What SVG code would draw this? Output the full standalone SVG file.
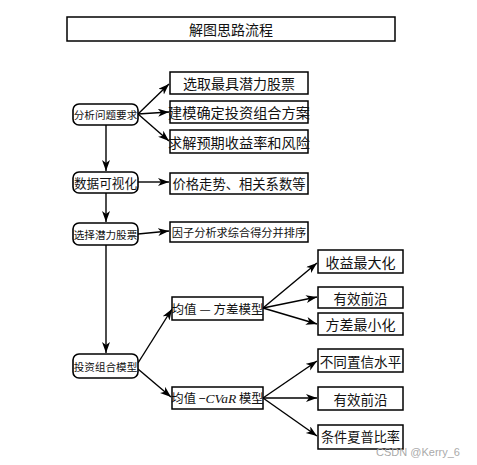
<svg xmlns="http://www.w3.org/2000/svg" width="477" height="465" viewBox="0 0 477 465">
<style>
.box{fill:#fff;stroke:#000;stroke-width:1.5}
.rbox{fill:#fff;stroke:#000;stroke-width:1.6}
text{font-family:"Noto Sans CJK SC","Noto Sans",sans-serif;fill:#111;text-anchor:middle;dominant-baseline:central}
.c line{stroke:#000;stroke-width:1.4;marker-end:url(#ah)}
.it{font-family:"Liberation Serif",serif;font-style:italic}
</style>
<defs>
<marker id="ah" markerUnits="userSpaceOnUse" markerWidth="12" markerHeight="10" refX="11" refY="4" orient="auto">
<path d="M0,0 L11,4 L0,8 L3,4 z" fill="#000"/>
</marker>
</defs>
<rect width="477" height="465" fill="#fff"/>
<g id="title"><rect class="box" x="67" y="17" width="328" height="24"/><text x="231" y="29" font-size="14">解图思路流程</text></g>

<g class="c">
<line x1="138" y1="114" x2="169" y2="84"/>
<line x1="138" y1="114" x2="169" y2="112"/>
<line x1="138" y1="114" x2="169" y2="141"/>
<line x1="106" y1="125" x2="106" y2="171"/>
<line x1="138" y1="182" x2="169" y2="182"/>
<line x1="106" y1="193" x2="106" y2="222"/>
<line x1="138" y1="234" x2="169" y2="231"/>
<line x1="106" y1="245" x2="106" y2="353"/>
<line x1="138" y1="363" x2="172" y2="309"/>
<line x1="138" y1="369" x2="171" y2="397"/>
<line x1="263" y1="308" x2="317" y2="263"/>
<line x1="263" y1="308" x2="317" y2="297"/>
<line x1="263" y1="308" x2="317" y2="324"/>
<line x1="263" y1="398" x2="317" y2="361"/>
<line x1="263" y1="398" x2="317" y2="398"/>
<line x1="263" y1="398" x2="317" y2="436"/>
</g>

<g id="n1"><rect class="rbox" x="73" y="104" width="65" height="21" rx="6"/><text x="105.5" y="114.5" font-size="10.6">分析问题要求</text></g>
<g id="n1a"><rect class="box" x="170" y="72" width="138" height="22"/><text x="239" y="83" font-size="14">选取最具潜力股票</text></g>
<g id="n1b"><rect class="box" x="170" y="101" width="138" height="22"/><text x="239" y="112" font-size="14.2">建模确定投资组合方案</text></g>
<g id="n1c"><rect class="box" x="170" y="130" width="138" height="23"/><text x="239" y="141.5" font-size="14.2">求解预期收益率和风险</text></g>

<g id="n2"><rect class="rbox" x="73" y="172" width="65" height="21" rx="6"/><text x="105.5" y="182.5" font-size="12.6">数据可视化</text></g>
<g id="n2a"><rect class="box" x="170" y="173" width="138" height="21"/><text x="239" y="183.5" font-size="13.3">价格走势、相关系数等</text></g>

<g id="n3"><rect class="rbox" x="73" y="223" width="65" height="22" rx="6"/><text x="105.5" y="234" font-size="10.6">选择潜力股票</text></g>
<g id="n3a"><rect class="box" x="170" y="222" width="138" height="20"/><text x="239" y="232" font-size="11.2">因子分析求综合得分并排序</text></g>

<g id="n4"><rect class="rbox" x="73" y="354" width="65" height="24" rx="6"/><text x="105.5" y="366" font-size="10.6">投资组合模型</text></g>

<g id="m1"><rect class="box" x="172" y="297" width="91" height="23"/><text x="217.5" y="308.5" font-size="12.5">均值 — 方差模型</text></g>
<g id="m2"><rect class="box" x="172" y="387" width="91" height="22"/><text x="217.5" y="398" font-size="12.3">均值 −<tspan class="it" font-size="13.5">CVaR</tspan> 模型</text></g>

<g id="r1"><rect class="box" x="318" y="250" width="85" height="23"/><text x="360.5" y="261.5" font-size="14">收益最大化</text></g>
<g id="r2"><rect class="box" x="318" y="287" width="85" height="21"/><text x="360.5" y="297.5" font-size="13.5">有效前沿</text></g>
<g id="r3"><rect class="box" x="318" y="313" width="85" height="22"/><text x="360.5" y="324" font-size="14">方差最小化</text></g>
<g id="r4"><rect class="box" x="318" y="349" width="85" height="23"/><text x="360.5" y="360.5" font-size="13.6">不同置信水平</text></g>
<g id="r5"><rect class="box" x="318" y="387" width="85" height="23"/><text x="360.5" y="398.5" font-size="13.5">有效前沿</text></g>
<g id="r6"><rect class="box" x="318" y="425" width="85" height="24"/><text x="360.5" y="436.5" font-size="13.2">条件夏普比率</text></g>

<text x="418" y="452" font-size="11" style="fill:#aaa;font-family:'Liberation Sans',sans-serif">CSDN @Kerry_6</text>
</svg>
